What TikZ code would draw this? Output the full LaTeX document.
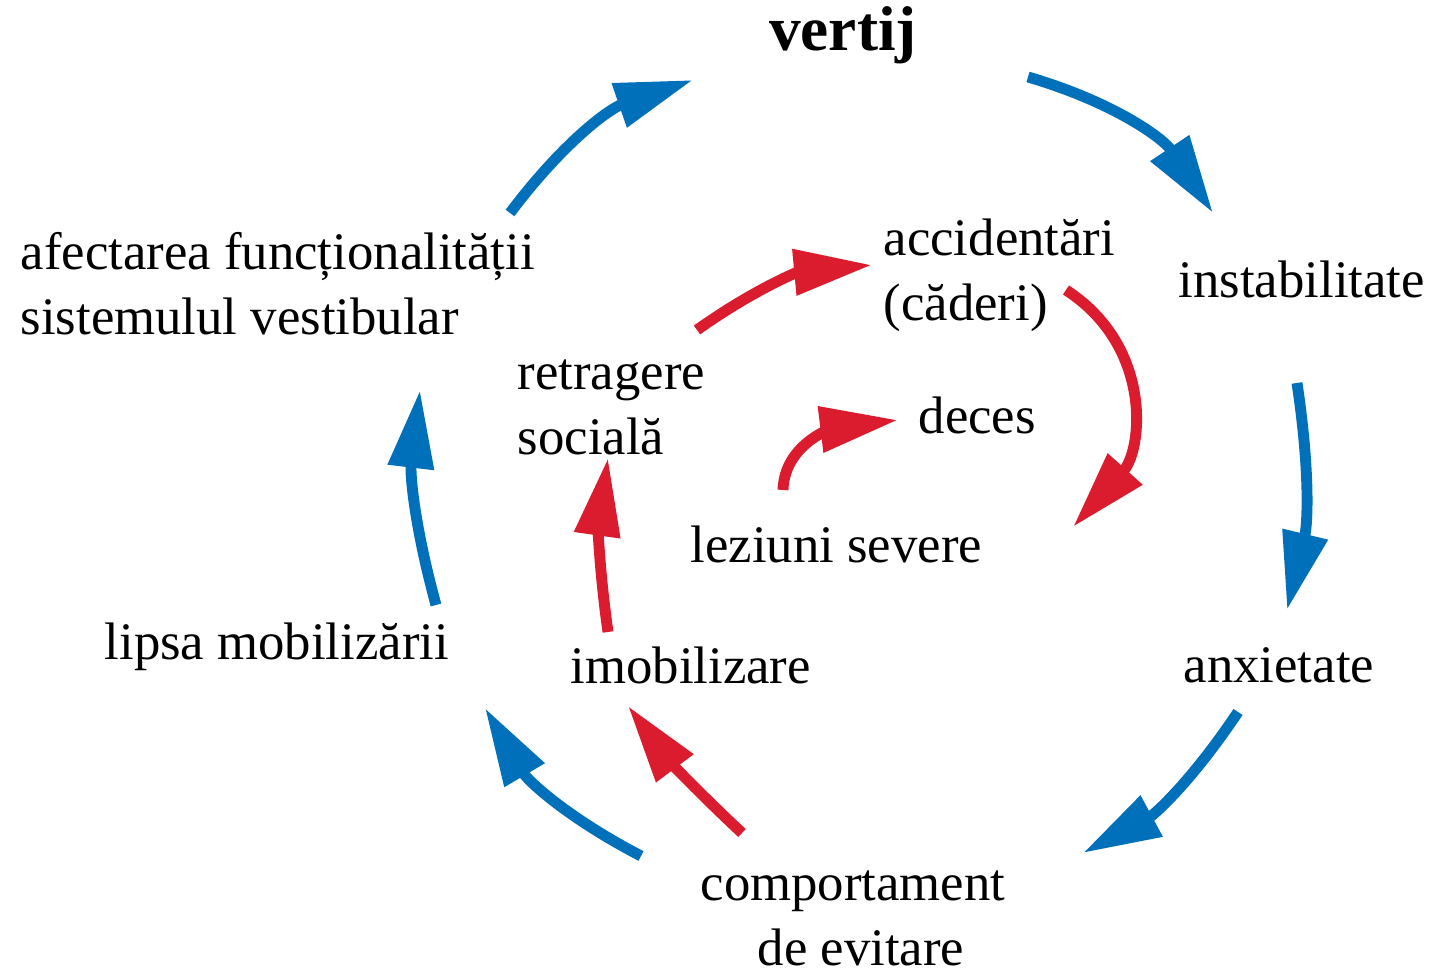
\documentclass[tikz,border=0pt]{standalone}
\usepackage{fontspec}
\setmainfont{Liberation Serif}
\usetikzlibrary{arrows.meta}
\definecolor{cycleblue}{RGB}{0,112,186}
\definecolor{cyclered}{RGB}{218,28,46}

\begin{document}
\begin{tikzpicture}[x=0.01cm,y=0.01cm]
\tikzstyle{every node}+=[inner sep=0pt,font=\fontsize{15}{18.5}\selectfont]
\tikzstyle{bluearrow}=[cycleblue,line width=3.1pt,-{Triangle[length=0.78cm,width=0.44cm]}]
\tikzstyle{redarrow}=[cyclered,line width=3.1pt,-{Triangle[length=0.78cm,width=0.44cm]}]
\useasboundingbox (0,0) rectangle (1432,-971);
\node (vertij) at (843,-35) {\fontsize{18}{22}\selectfont\bfseries vertij};
\node[anchor=west] (instab) at (1178,-279) {instabilitate};
\node[anchor=west] (anx) at (1183,-665) {anxietate};
\node[align=center] (evit) at (853,-918) {comportament\\\hspace*{0.16cm}de evitare};
\node[anchor=west] (lipsa) at (104,-647) {lipsa mobilizării};
\node[anchor=west,align=left] (afect) at (20,-284) {afectarea funcționalității\\sistemulul vestibular};
\node[anchor=west,align=left] (accid) at (883,-275) {accidentări\\(căderi)};
\node[anchor=west,align=left] (retrag) at (517,-407) {retragere\\socială};
\node[anchor=west] (deces) at (918,-415) {deces};
\node[anchor=west] (lez) at (690,-544) {leziuni severe};
\node[anchor=west] (imob) at (570,-665) {imobilizare};
\coordinate (b1a) at (510,-213);
\coordinate (b1b) at (693,-80);
\coordinate (b2a) at (1028,-77);
\coordinate (b2b) at (1213,-213);
\coordinate (b3a) at (1297,-383);
\coordinate (b3b) at (1287,-610);
\coordinate (b4a) at (1238,-712);
\coordinate (b4b) at (1083,-853);
\coordinate (b5a) at (641,-856);
\coordinate (b5b) at (485,-708);
\coordinate (b6a) at (436,-605);
\coordinate (b6b) at (420,-390);
\coordinate (r1a) at (697,-330);
\coordinate (r1b) at (872,-265);
\coordinate (r2a) at (1066,-290);
\coordinate (r2b) at (1073,-527);
\coordinate (r3a) at (783,-490);
\coordinate (r3b) at (898,-420);
\coordinate (r4a) at (608,-632);
\coordinate (r4b) at (608,-458);
\coordinate (r5a) at (742,-833);
\coordinate (r5b) at (628,-706);
\draw[bluearrow] (b1a) to[bend left=17] (b1b);
\draw[bluearrow] (b2a) to[bend left=20] (b2b);
\draw[bluearrow] (b3a) to[bend left=11] (b3b);
\draw[bluearrow] (b4a) to[bend left=14] (b4b);
\draw[bluearrow] (b5a) to[bend left=16] (b5b);
\draw[bluearrow] (b6a) to[bend left=11] (b6b);
\draw[redarrow] (r1a) to[bend left=15] (r1b);
\draw[redarrow] (r2a) to[out=-33,in=48,looseness=1.12] (r2b);
\draw[redarrow] (r3a) to[out=88,in=187] (r3b);
\draw[redarrow] (r4a) to[bend left=8] (r4b);
\draw[redarrow] (r5a) to[bend left=5] (r5b);
\end{tikzpicture}
\end{document}
